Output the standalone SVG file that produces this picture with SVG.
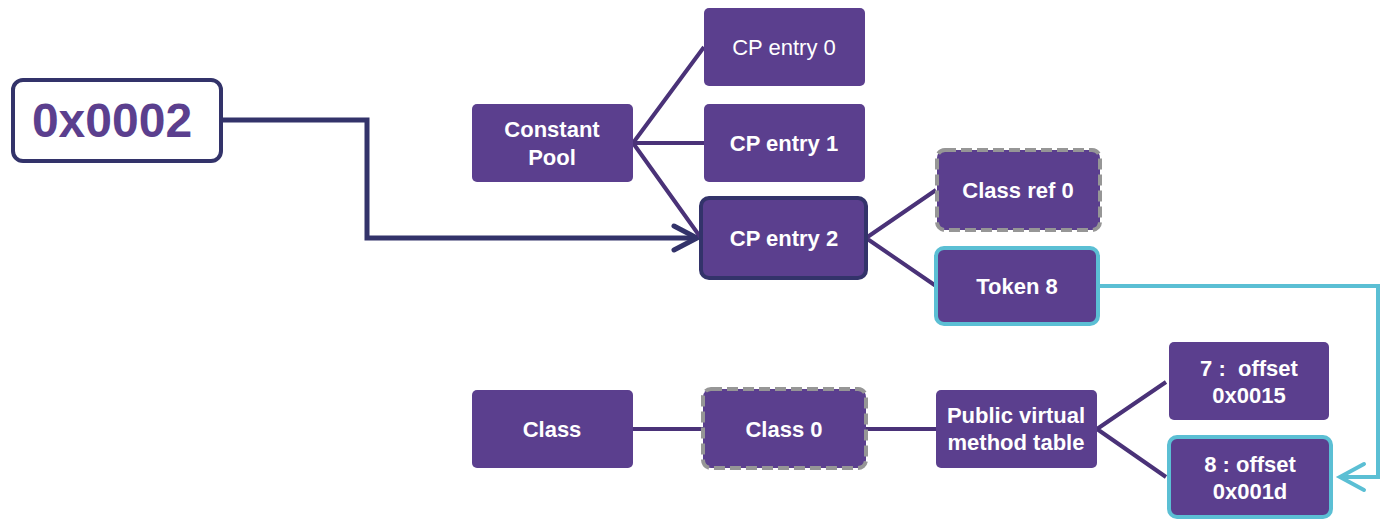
<svg xmlns="http://www.w3.org/2000/svg" width="1387" height="519" viewBox="0 0 1387 519">
  <style>
    .box { fill: #5b3f8e; }
    .plain { stroke: none; }
    .sel { stroke: #33336a; stroke-width: 4; }
    .dash { stroke: #969696; stroke-width: 4; stroke-dasharray: 11 5; }
    .hl { stroke: #5bbfd4; stroke-width: 4; }
    .lbl { fill: #ffffff; font-family: "Liberation Sans", Arial, sans-serif; font-size: 22px; font-weight: bold; text-anchor: middle; white-space: pre; }
    .thin { font-weight: normal; }
    .tree { stroke: #4a3278; stroke-width: 4; fill: none; }
    .ptr { stroke: #33336a; stroke-width: 5; fill: none; stroke-linejoin: miter; }
    .jump { stroke: #5bbfd4; stroke-width: 4; fill: none; }
  </style>

  <!-- connectors -->
  <g id="connectors">
    <path class="ptr" d="M222,120 H367 V238 H694"/>
    <path class="ptr" d="M674,226 L697,238 L674,250" stroke-linecap="round"/>
    <path class="tree" d="M633,143 L704,47 M633,143 H704 M633,143 L701,238"/>
    <path class="tree" d="M866,238 L936,190 M866,238 L936,286"/>
    <path class="tree" d="M633,429 H703 M866,429 H936"/>
    <path class="tree" d="M1097,429 L1166,382 M1097,429 L1166,477"/>
    <path class="jump" d="M1099,286 H1378 V477 H1342"/>
    <path class="jump" d="M1364,464 L1340,477 L1364,490" stroke-linecap="round"/>
  </g>

  <!-- index value -->
  <g id="index">
    <rect x="13" y="80" width="208" height="81" rx="10" fill="#ffffff" stroke="#33336a" stroke-width="4"/>
    <text x="112" y="137" font-family="Liberation Sans, Arial, sans-serif" font-size="48" font-weight="bold" fill="#5b3f8e" text-anchor="middle">0x0002</text>
  </g>

  <g id="constant-pool">
    <rect class="box plain" x="472" y="104" width="161" height="78" rx="5"/>
    <text class="lbl" x="552" y="137">Constant</text>
    <text class="lbl" x="552" y="165">Pool</text>
  </g>

  <g id="cp-entry-0">
    <rect class="box plain" x="704" y="8" width="161" height="78" rx="5"/>
    <text class="lbl thin" x="784" y="55">CP entry 0</text>
  </g>

  <g id="cp-entry-1">
    <rect class="box plain" x="704" y="104" width="161" height="78" rx="5"/>
    <text class="lbl" x="784" y="151">CP entry 1</text>
  </g>

  <g id="cp-entry-2">
    <rect class="box sel" x="701" y="198" width="165" height="80" rx="8"/>
    <text class="lbl" x="784" y="246">CP entry 2</text>
  </g>

  <g id="class-ref-0">
    <rect class="box dash" x="937" y="150" width="163" height="80" rx="8"/>
    <text class="lbl" x="1018" y="198">Class ref 0</text>
  </g>

  <g id="token-8">
    <rect class="box hl" x="936" y="248" width="162" height="76" rx="8"/>
    <text class="lbl" x="1017" y="294">Token 8</text>
  </g>

  <g id="class">
    <rect class="box plain" x="472" y="390" width="161" height="78" rx="5"/>
    <text class="lbl" x="552" y="437">Class</text>
  </g>

  <g id="class-0">
    <rect class="box dash" x="703" y="389" width="163" height="79" rx="8"/>
    <text class="lbl" x="784" y="437">Class 0</text>
  </g>

  <g id="vtable">
    <rect class="box plain" x="936" y="390" width="161" height="78" rx="5"/>
    <text class="lbl" x="1016" y="423">Public virtual</text>
    <text class="lbl" x="1016" y="450">method table</text>
  </g>

  <g id="slot-7">
    <rect class="box plain" x="1169" y="342" width="160" height="78" rx="5"/>
    <text class="lbl" x="1249" y="376" xml:space="preserve">7 :  offset</text>
    <text class="lbl" x="1249" y="403">0x0015</text>
  </g>

  <g id="slot-8">
    <rect class="box hl" x="1169" y="437" width="162" height="80" rx="8"/>
    <text class="lbl" x="1250" y="472">8 : offset</text>
    <text class="lbl" x="1250" y="499">0x001d</text>
  </g>
</svg>
